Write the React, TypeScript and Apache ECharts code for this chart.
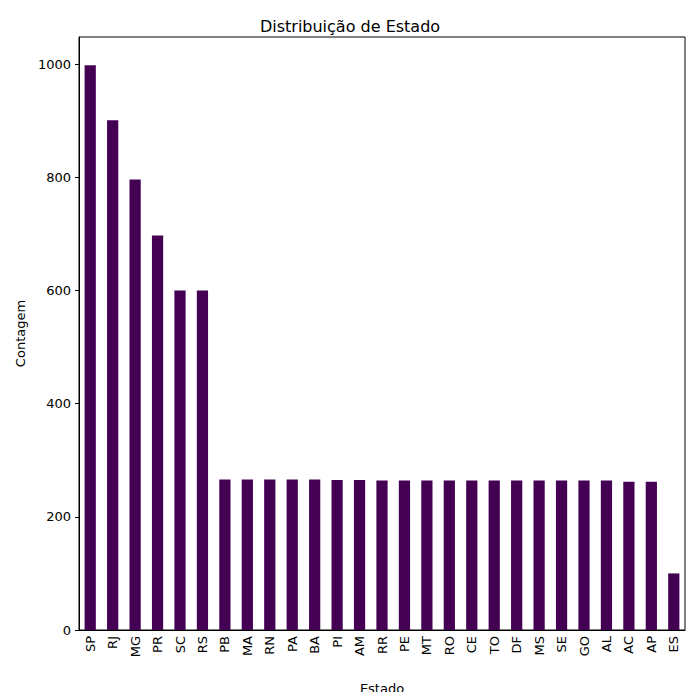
import React, { useEffect, useRef } from 'react';
import * as echarts from 'echarts';

const estados = ['SP', 'RJ', 'MG', 'PR', 'SC', 'RS', 'PB', 'MA', 'RN', 'PA', 'BA', 'PI', 'AM', 'RR', 'PE', 'MT', 'RO', 'CE', 'TO', 'DF', 'MS', 'SE', 'GO', 'AL', 'AC', 'AP', 'ES'];
const contagens = [998, 901, 796, 697, 600, 600, 266, 266, 266, 266, 266, 265, 265, 264, 264, 264, 264, 264, 264, 264, 264, 264, 264, 264, 262, 262, 100];

export default function App() {
  const chartRef = useRef<HTMLDivElement>(null);

  useEffect(() => {
    if (!chartRef.current) return;
    const chart = echarts.init(chartRef.current, null, { renderer: 'svg' });
    const font = 'DejaVu Sans';
    chart.setOption({
      animation: false,
      textStyle: { fontFamily: font },
      title: {
        text: 'Distribuição de Estado',
        left: 'center',
        top: 13,
        textStyle: { fontFamily: font, fontSize: 16, fontWeight: 'normal', color: '#000' },
      },
      grid: { left: 79, right: 15, top: 37, bottom: 67, show: true, borderColor: '#000', borderWidth: 1 },
      xAxis: {
        type: 'category',
        data: estados,
        name: 'Estado',
        nameLocation: 'middle',
        nameGap: 52,
        nameTextStyle: { fontFamily: font, fontSize: 13, color: '#000' },
        axisLine: { lineStyle: { color: '#000' } },
        axisTick: { alignWithLabel: true, lineStyle: { color: '#000' }, length: 4 },
        axisLabel: { rotate: 90, interval: 0, fontSize: 13, color: '#000', margin: 6 },
      },
      yAxis: {
        type: 'value',
        min: 0,
        max: 1048,
        interval: 200,
        name: 'Contagem',
        nameLocation: 'middle',
        nameGap: 51,
        nameTextStyle: { fontFamily: font, fontSize: 13, color: '#000' },
        splitLine: { show: false },
        axisLine: { show: true, lineStyle: { color: '#000' } },
        axisTick: { show: true, lineStyle: { color: '#000' }, length: 4 },
        axisLabel: { fontSize: 13, color: '#000', showMaxLabel: false, formatter: (v: number) => String(v) },
      },
      series: [
        {
          type: 'bar',
          data: contagens,
          barWidth: '50%',
          itemStyle: { color: '#440154' },
        },
      ],
    });
    return () => chart.dispose();
  }, []);

  return <div ref={chartRef} style={{ width: 700, height: 700, margin: -8 }} />;
}
